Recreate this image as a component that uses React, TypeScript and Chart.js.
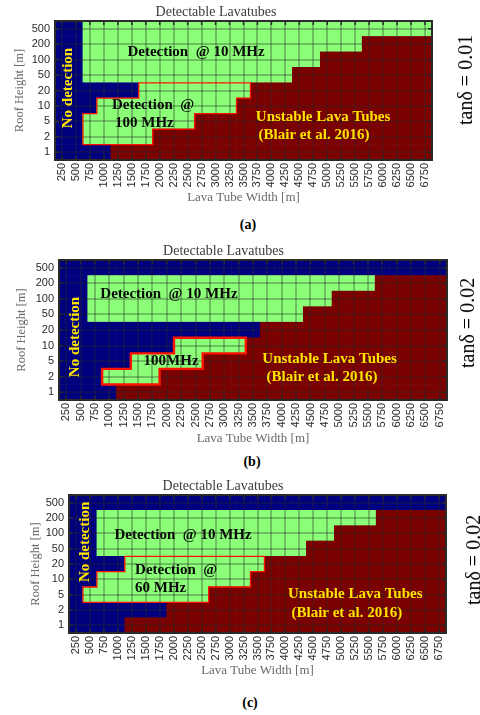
import React, { useEffect, useRef } from "react";
import { Chart, registerables } from "chart.js";

Chart.register(...registerables);

// Lava tube width categories (x axis) and roof height categories (y axis, bottom to top)
const widthLabels = [
  "250", "500", "750", "1000", "1250", "1500", "1750", "2000", "2250",
  "2500", "2750", "3000", "3250", "3500", "3750", "4000", "4250", "4500",
  "4750", "5000", "5250", "5500", "5750", "6000", "6250", "6500", "6750",
];
const heightLabels = ["1", "2", "5", "10", "20", "50", "100", "200", "500"];

// Cell classes per roof height (rows written from 500 m down to 1 m),
// columns grouped by five for readability.
//   B = no detection, L = detection @ 10 MHz,
//   H = detection at the higher frequency, U = unstable lava tubes
const mapTan001 = [
  "BBLLL LLLLL LLLLL LLLLL LLLLL LL", // 500
  "BBLLL LLLLL LLLLL LLLLL LLUUU UU", // 200
  "BBLLL LLLLL LLLLL LLLLU UUUUU UU", // 100
  "BBLLL LLLLL LLLLL LLUUU UUUUU UU", // 50
  "BBBBB BHHHH HHHHU UUUUU UUUUU UU", // 20
  "BBBHH HHHHH HHHUU UUUUU UUUUU UU", // 10
  "BBHHH HHHHH UUUUU UUUUU UUUUU UU", // 5
  "BBHHH HHUUU UUUUU UUUUU UUUUU UU", // 2
  "BBBBU UUUUU UUUUU UUUUU UUUUU UU", // 1
];

const mapTan002 = [
  "BBBBB BBBBB BBBBB BBBBB BBBBB BB", // 500
  "BBLLL LLLLL LLLLL LLLLL LLUUU UU", // 200
  "BBLLL LLLLL LLLLL LLLLU UUUUU UU", // 100
  "BBLLL LLLLL LLLLL LLUUU UUUUU UU", // 50
  "BBBBB BBBBB BBBBU UUUUU UUUUU UU", // 20
  "BBBBB BBBHH HHHUU UUUUU UUUUU UU", // 10
  "BBBBB HHHHH UUUUU UUUUU UUUUU UU", // 5
  "BBBHH HHUUU UUUUU UUUUU UUUUU UU", // 2
  "BBBBU UUUUU UUUUU UUUUU UUUUU UU", // 1
];

const mapTan002At60 = [
  "BBBBB BBBBB BBBBB BBBBB BBBBB BB", // 500
  "BBLLL LLLLL LLLLL LLLLL LLUUU UU", // 200
  "BBLLL LLLLL LLLLL LLLLU UUUUU UU", // 100
  "BBLLL LLLLL LLLLL LLUUU UUUUU UU", // 50
  "BBBBH HHHHH HHHHU UUUUU UUUUU UU", // 20
  "BBHHH HHHHH HHHUU UUUUU UUUUU UU", // 10
  "BHHHH HHHHH UUUUU UUUUU UUUUU UU", // 5
  "BBBBB BBUUU UUUUU UUUUU UUUUU UU", // 2
  "BBBBU UUUUU UUUUU UUUUU UUUUU UU", // 1
];

const CELL_COLORS: Record<string, string> = {
  B: "#00007f",
  L: "#8cff78",
  H: "#8cff78",
  U: "#7b0000",
};

const YELLOW = "#ffe400";
const INK = "#0a0a0a";
const SERIF = "'Liberation Serif', 'Times New Roman', serif";
const SANS = "'Liberation Sans', Arial, sans-serif";

type Note = {
  text: string;
  x: number; // column position (category index)
  y: number; // row position (row units from the bottom)
  align: "left" | "center";
  color: string;
  vertical?: boolean;
};

type PanelLayout = {
  top: number;
  height: number;
  yAxisWidth: number;
  xAxisHeight: number;
  padRight: number;
  titlePad: [number, number];
  yTitlePad: number;
  xTitlePad: number;
  outlineWidth: number;
};

const notesA: Note[] = [
  { text: "No detection", x: 0.43, y: 4.66, align: "center", color: YELLOW, vertical: true },
  { text: "Detection  @ 10 MHz", x: 9.6, y: 7.0, align: "center", color: INK },
  { text: "Detection  @", x: 3.58, y: 3.56, align: "left", color: INK },
  { text: "100 MHz", x: 3.8, y: 2.4, align: "left", color: INK },
  { text: "Unstable Lava Tubes", x: 18.7, y: 2.78, align: "center", color: YELLOW },
  { text: "(Blair et al. 2016)", x: 18.05, y: 1.62, align: "center", color: YELLOW },
];

const notesB: Note[] = [
  { text: "No detection", x: 0.6, y: 4.05, align: "center", color: YELLOW, vertical: true },
  { text: "Detection  @ 10 MHz", x: 7.15, y: 6.81, align: "center", color: INK },
  { text: "100MHz", x: 7.3, y: 2.5, align: "center", color: INK },
  { text: "Unstable Lava Tubes", x: 18.33, y: 2.63, align: "center", color: YELLOW },
  { text: "(Blair et al. 2016)", x: 17.8, y: 1.48, align: "center", color: YELLOW },
];

const notesC: Note[] = [
  { text: "No detection", x: 0.65, y: 5.94, align: "center", color: YELLOW, vertical: true },
  { text: "Detection  @ 10 MHz", x: 7.67, y: 6.39, align: "center", color: INK },
  { text: "Detection  @", x: 4.23, y: 4.1, align: "left", color: INK },
  { text: "60 MHz", x: 4.23, y: 2.93, align: "left", color: INK },
  { text: "Unstable Lava Tubes", x: 20.0, y: 2.54, align: "center", color: YELLOW },
  { text: "(Blair et al. 2016)", x: 19.4, y: 1.3, align: "center", color: YELLOW },
];

const layoutA: PanelLayout = {
  top: 0, height: 212, yAxisWidth: 55, xAxisHeight: 52, padRight: 48,
  titlePad: [3.6, 0.6], yTitlePad: 12.3, xTitlePad: 6.2, outlineWidth: 1.3,
};
const layoutB: PanelLayout = {
  top: 238, height: 212, yAxisWidth: 59, xAxisHeight: 50, padRight: 33,
  titlePad: [4.6, 0.6], yTitlePad: 14.5, xTitlePad: 3.2, outlineWidth: 2.4,
};
const layoutC: PanelLayout = {
  top: 470, height: 215, yAxisWidth: 69, xAxisHeight: 52, padRight: 34,
  titlePad: [7.6, 0.6], yTitlePad: 28.1, xTitlePad: 6.2, outlineWidth: 1.3,
};

function toGrid(rows: string[]): string[][] {
  // bottom row first, so that row index r matches heightLabels[r]
  return rows.map((r) => r.replace(/\s+/g, "").split("")).reverse();
}

function LavaPanel({ rows, layout, notes }: { rows: string[]; layout: PanelLayout; notes: Note[] }) {
  const ref = useRef<HTMLCanvasElement>(null);

  useEffect(() => {
    if (!ref.current) return;
    const grid = toGrid(rows);
    const isHigh = (r: number, c: number) =>
      r >= 0 && r < grid.length && c >= 0 && c < widthLabels.length && grid[r][c] === "H";

    const datasets = grid.map((cells, r) => ({
      label: heightLabels[r] + " m",
      data: widthLabels.map(() => 1),
      backgroundColor: cells.map((c) => CELL_COLORS[c]),
      borderWidth: 0,
      barPercentage: 1,
      categoryPercentage: 1,
    }));

    const decor = {
      id: "lavaDecor",
      afterDraw(chart: any) {
        const { ctx, chartArea: a } = chart;
        const x = chart.scales.x;
        const y = chart.scales.y;

        // outline of the higher-frequency detection region
        ctx.save();
        ctx.strokeStyle = "#ff1200";
        ctx.lineWidth = layout.outlineWidth;
        ctx.lineCap = "square";
        ctx.beginPath();
        for (let r = 0; r < grid.length; r++) {
          for (let c = 0; c < widthLabels.length; c++) {
            if (!isHigh(r, c)) continue;
            const x0 = x.getPixelForValue(c - 0.5);
            const x1 = x.getPixelForValue(c + 0.5);
            const yb = y.getPixelForValue(r);
            const yt = y.getPixelForValue(r + 1);
            if (!isHigh(r + 1, c)) { ctx.moveTo(x0, yt); ctx.lineTo(x1, yt); }
            if (!isHigh(r - 1, c)) { ctx.moveTo(x0, yb); ctx.lineTo(x1, yb); }
            if (!isHigh(r, c - 1)) { ctx.moveTo(x0, yb); ctx.lineTo(x0, yt); }
            if (!isHigh(r, c + 1)) { ctx.moveTo(x1, yb); ctx.lineTo(x1, yt); }
          }
        }
        ctx.stroke();
        ctx.restore();

        // axes box with inward tick marks
        ctx.save();
        ctx.strokeStyle = "#2a2a2a";
        ctx.lineWidth = 2;
        ctx.strokeRect(a.left, a.top, a.right - a.left, a.bottom - a.top);
        ctx.lineWidth = 1.5;
        ctx.beginPath();
        x.ticks.forEach((_: any, i: number) => {
          const px = x.getPixelForTick(i);
          ctx.moveTo(px, a.top);
          ctx.lineTo(px, a.top + 4);
          ctx.moveTo(px, a.bottom);
          ctx.lineTo(px, a.bottom - 4);
        });
        y.ticks.forEach((_: any, i: number) => {
          const py = y.getPixelForTick(i);
          ctx.moveTo(a.left, py);
          ctx.lineTo(a.left + 4, py);
          ctx.moveTo(a.right, py);
          ctx.lineTo(a.right - 4, py);
        });
        ctx.stroke();
        ctx.restore();

        // region annotations
        ctx.save();
        ctx.font = `bold 15px ${SERIF}`;
        ctx.textBaseline = "middle";
        notes.forEach((n) => {
          const px = x.getPixelForValue(n.x);
          const py = y.getPixelForValue(n.y);
          ctx.fillStyle = n.color;
          if (n.vertical) {
            ctx.save();
            ctx.translate(px, py);
            ctx.rotate(-Math.PI / 2);
            ctx.textAlign = "center";
            ctx.fillText(n.text, 0, 0);
            ctx.restore();
          } else {
            ctx.textAlign = n.align;
            ctx.fillText(n.text, px, py);
          }
        });
        ctx.restore();
      },
    };

    // grid lines sit on top of the cells
    const gridStyle = {
      color: "rgba(40, 40, 40, 0.3)",
      lineWidth: 2,
      drawTicks: false,
      offset: false,
      z: 1,
    };

    const chart = new Chart(ref.current, {
      type: "bar",
      data: { labels: widthLabels, datasets },
      options: {
        responsive: false,
        maintainAspectRatio: false,
        animation: false,
        devicePixelRatio: 1,
        layout: { padding: { left: 0, right: layout.padRight, top: 0, bottom: 0 } },
        plugins: {
          legend: { display: false },
          tooltip: { enabled: false },
          title: {
            display: true,
            text: "Detectable Lavatubes",
            color: "#3c3c3c",
            font: { family: SERIF, size: 14, weight: "normal" },
            padding: { top: layout.titlePad[0], bottom: layout.titlePad[1] },
          },
        },
        scales: {
          x: {
            type: "category",
            stacked: true,
            grid: gridStyle,
            border: { display: false },
            ticks: {
              autoSkip: false,
              maxRotation: 90,
              minRotation: 90,
              padding: 3,
              color: "#2b2b2b",
              font: { family: SANS, size: 11 },
            },
            title: {
              display: true,
              text: "Lava Tube Width [m]",
              color: "#6a6a6a",
              font: { family: SERIF, size: 13 },
              padding: { top: 0, bottom: layout.xTitlePad },
            },
            afterFit: (s: any) => {
              s.height = layout.xAxisHeight;
            },
          },
          y: {
            type: "linear",
            stacked: true,
            min: 0,
            max: heightLabels.length,
            grid: gridStyle,
            border: { display: false },
            afterBuildTicks: (s: any) => {
              s.ticks = heightLabels.map((_, i) => ({ value: i + 0.5 }));
            },
            ticks: {
              autoSkip: false,
              padding: 5,
              color: "#2b2b2b",
              font: { family: SANS, size: 11 },
              callback: (_v: any, i: number) => heightLabels[i],
            },
            title: {
              display: true,
              text: "Roof Height [m]",
              color: "#6a6a6a",
              font: { family: SERIF, size: 12.5 },
              padding: { top: layout.yTitlePad, bottom: 0 },
            },
            afterFit: (s: any) => {
              s.width = layout.yAxisWidth;
            },
          },
        },
      } as any,
      plugins: [decor],
    });

    return () => chart.destroy();
  }, [rows, layout, notes]);

  return (
    <canvas
      ref={ref}
      width={480}
      height={layout.height}
      style={{ position: "absolute", left: 0, top: layout.top, width: 480, height: layout.height }}
    />
  );
}

function Caption({ text, x, y }: { text: string; x: number; y: number }) {
  return (
    <div
      style={{
        position: "absolute",
        left: x,
        top: y,
        transform: "translate(-50%, -50%)",
        font: `bold 14px ${SERIF}`,
        color: "#000",
        whiteSpace: "nowrap",
        lineHeight: 1,
      }}
    >
      {text}
    </div>
  );
}

function LossLabel({ text, x, y }: { text: string; x: number; y: number }) {
  return (
    <div
      style={{
        position: "absolute",
        left: x,
        top: y,
        transform: "translate(-50%, -50%) rotate(-90deg)",
        font: `20px ${SERIF}`,
        color: "#000",
        whiteSpace: "nowrap",
        lineHeight: 1,
      }}
    >
      {text}
    </div>
  );
}

export default function App() {
  return (
    <div
      style={{
        position: "absolute",
        left: 0,
        top: 0,
        width: 480,
        height: 715,
        background: "#fff",
        overflow: "hidden",
      }}
    >
      <LavaPanel rows={mapTan001} layout={layoutA} notes={notesA} />
      <LossLabel text="tanδ = 0.01" x={465} y={80} />
      <Caption text="(a)" x={248} y={225} />

      <LavaPanel rows={mapTan002} layout={layoutB} notes={notesB} />
      <LossLabel text="tanδ = 0.02" x={467} y={323} />
      <Caption text="(b)" x={252} y={462} />

      <LavaPanel rows={mapTan002At60} layout={layoutC} notes={notesC} />
      <LossLabel text="tanδ = 0.02" x={473} y={560} />
      <Caption text="(c)" x={250} y={703} />
    </div>
  );
}
